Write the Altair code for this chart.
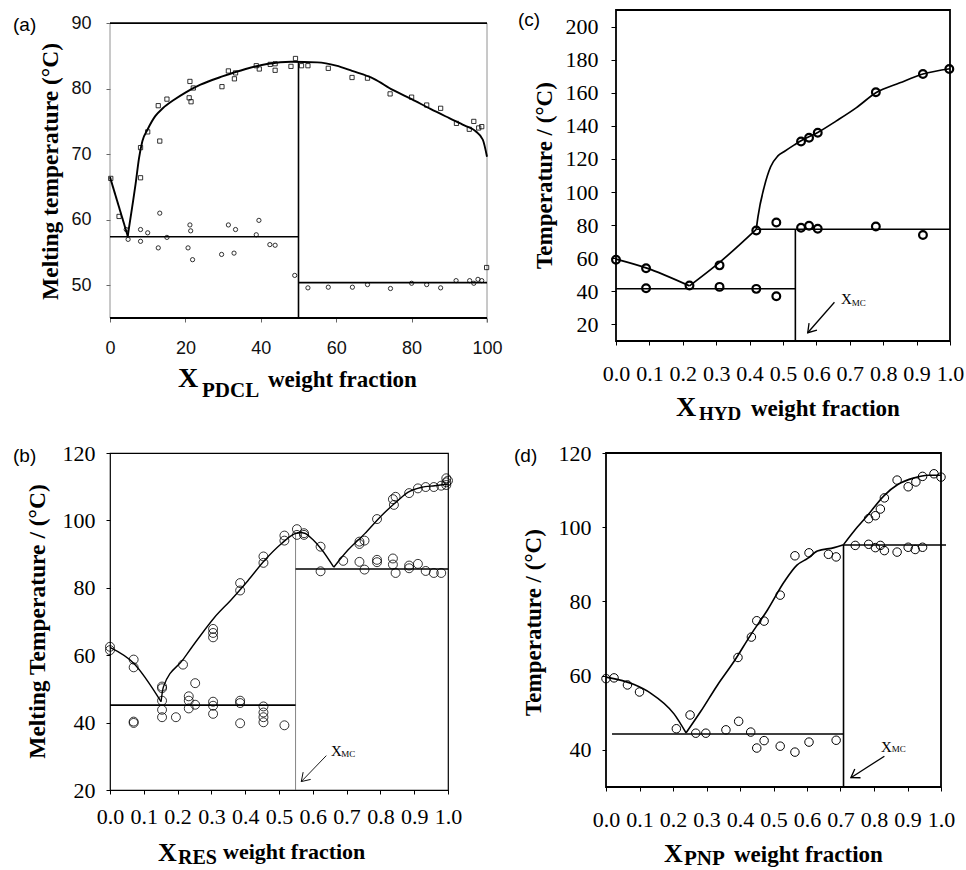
import altair as alt
import pandas as pd

SERIF = "Liberation Serif"
SANS = "Liberation Sans"

# ---------------- Panel (a) : PDCL ----------------
a_sq_x = [0.2, 2.4, 8.1, 8.1, 10.0, 12.8, 13.2, 15.1, 21.2, 21.0, 21.5, 22.1, 29.7, 31.4, 33.0, 33.3, 38.8, 39.6, 42.5, 43.8,
          43.8, 48.0, 49.2, 50.8, 52.5, 57.9, 64.2, 68.3, 74.3, 80.0, 84.0, 87.7, 91.9, 95.3, 96.5, 97.8, 98.6, 99.9]
a_sq_y = [66.3, 60.5, 71.0, 66.4, 73.4, 77.4, 72.0, 78.4, 81.1, 78.6, 78.0, 80.1, 80.3, 82.7, 81.5, 82.4, 83.5, 83.0, 83.7, 83.8,
          82.8, 83.4, 84.6, 83.5, 83.5, 83.1, 81.7, 81.6, 79.2, 78.7, 77.5, 77.0, 74.7, 73.8, 75.0, 74.0, 74.2, 52.7]
a_ci_x = [4.3, 4.8, 8.1, 8.1, 10.0, 12.8, 13.2, 15.1, 20.7, 21.2, 21.4, 21.9, 29.6, 31.4, 32.9, 33.3, 38.8, 39.5, 42.4, 43.8,
          49.0, 52.5, 57.9, 64.3, 68.3, 74.4, 80.0, 84.0, 87.7, 91.8, 95.4, 96.5, 97.6, 98.6]
a_ci_y = [58.5, 57.0, 58.5, 56.7, 58.0, 55.7, 61.0, 57.3, 55.7, 59.2, 58.3, 53.9, 54.7, 59.2, 54.9, 58.5, 57.7, 59.9, 56.2, 56.1,
          51.5, 49.6, 49.7, 49.7, 50.1, 49.5, 50.3, 50.1, 49.6, 50.7, 50.7, 50.3, 50.9, 50.7]
a_cv_x = [0, 4.7,
          4.7, 5.9, 6.8, 7.7, 8.6, 10, 12, 14, 17, 20, 24, 30, 36, 42, 48, 55, 60, 64.2, 70, 75, 80, 85, 90, 94, 97, 98.9, 100]
a_cv_y = [66.5, 57.5,
          57.5, 62.0, 65.5, 69.4, 72.0, 73.8, 75.8, 77.0, 78.3, 79.4, 80.6, 81.9, 83.0, 83.8, 84.1, 84.0, 83.5, 82.7, 81.5,
          79.8, 78.4, 76.9, 75.5, 74.4, 73.5, 72.2, 69.6]
a_cv_b = [1] * 2 + [2] * 27
a_rl_x1 = [0, 50, 50]
a_rl_x2 = [50, 100, 50]
a_rl_y1 = [57.4, 50.4, 45]
a_rl_y2 = [57.4, 50.4, 84.1]
a_fr_x1 = [0, 0]
a_fr_x2 = [100, 100]
a_fr_y1 = [90, 45]
a_fr_y2 = [90, 45]
a_side_x1 = [0, 100]
a_side_x2 = [0, 100]
a_side_y1 = [45, 44.3]
a_side_y2 = [90, 90]
a_xticks = [0, 20, 40, 60, 80, 100]
a_yticks = [50, 60, 70, 80, 90]

# ---------------- Panel (b) : RES ----------------
b_x = [0.0, 0.0, 0.07, 0.07, 0.07, 0.07, 0.154, 0.154, 0.154, 0.154, 0.154, 0.195, 0.216, 0.233, 0.233, 0.233, 0.252, 0.252,
       0.305, 0.305, 0.305, 0.305, 0.305, 0.305, 0.385, 0.385, 0.385, 0.385, 0.385, 0.454, 0.454, 0.454, 0.454, 0.454, 0.454,
       0.516, 0.516, 0.516, 0.553, 0.553, 0.574, 0.574, 0.623, 0.623, 0.69, 0.738, 0.738, 0.753, 0.738, 0.753, 0.79, 0.79, 0.79,
       0.837, 0.84, 0.845, 0.837, 0.837, 0.845, 0.885, 0.885, 0.885, 0.911, 0.911, 0.934, 0.934, 0.958, 0.958, 0.98, 0.98,
       0.995, 0.995, 0.995, 1.0]
b_y = [62.5, 61.5, 58.7, 56.4, 40.3, 39.9, 50.7, 50.2, 46.5, 43.8, 41.6, 41.6, 57.2, 47.8, 46.5, 44.2, 51.7, 45.3,
       67.8, 66.6, 65.3, 46.2, 45.0, 42.6, 81.4, 79.2, 46.5, 45.8, 39.8, 89.3, 87.4, 44.8, 43.0, 41.6, 40.1,
       95.5, 94.0, 39.2, 97.4, 95.7, 96.2, 95.7, 92.2, 84.9, 88.0, 93.0, 93.7, 94.0, 87.7, 85.4, 100.4, 88.3, 87.6,
       106.3, 104.6, 107.0, 88.7, 86.9, 84.4, 108.1, 86.6, 85.8, 109.5, 87.1, 109.9, 85.0, 109.9, 84.4, 110.3, 84.4,
       112.5, 111.3, 110.5, 111.8]
b_cv_x = [0, 0.07, 0.151,
          0.151, 0.158, 0.216, 0.26, 0.309, 0.358, 0.408, 0.457, 0.506, 0.546, 0.562, 0.576, 0.6, 0.625, 0.662,
          0.662, 0.704, 0.753, 0.803, 0.852, 0.881, 0.921, 0.961, 1.0]
b_cv_y = [62.3, 57.6, 46.2,
          46.2, 50.6, 58.7, 64.8, 71.2, 76.4, 82.1, 88.1, 93.0, 96.0, 96.4, 96.2, 94.3, 91.5, 86.1,
          86.1, 91.2, 96.0, 101.4, 105.9, 108.3, 109.8, 110.3, 110.8]
b_cv_b = [1] * 3 + [2] * 15 + [3] * 9
b_rl_x1 = [0, 0.549]
b_rl_x2 = [0.549, 1.0]
b_rl_y1 = [45.2, 85.6]
b_rl_y2 = [45.2, 85.6]
b_vl_x1 = [0.549]
b_vl_x2 = [0.549]
b_vl_y1 = [20]
b_vl_y2 = [96.5]
b_arrow = (0.64, 30.2, 0.566, 22.5)
b_mc_txt = ["X", "MC"]
b_mc_x = [0.654, 0.684]
b_mc_y = [30.2, 29.9]

# ---------------- Panel (c) : HYD ----------------
c_x = [0.0, 0.09, 0.09, 0.22, 0.31, 0.31, 0.42, 0.42, 0.48, 0.48, 0.554, 0.578, 0.604, 0.554, 0.578, 0.604,
       0.778, 0.778, 0.919, 0.919, 0.998]
c_y = [59.1, 53.9, 41.9, 43.5, 55.7, 42.7, 76.8, 41.5, 81.6, 37.0, 130.6, 132.8, 135.8, 78.4, 79.6, 77.8,
       160.3, 79.2, 171.3, 74.0, 174.3]
c_cv_x = [0, 0.09, 0.22,
          0.22, 0.31, 0.42,
          0.42, 0.425, 0.444, 0.463, 0.484, 0.504, 0.534, 0.554, 0.604, 0.66, 0.72, 0.778, 0.85, 0.919, 1.0]
c_cv_y = [59.5, 54.2, 43.3,
          43.3, 57.5, 77.5,
          77.5, 85.0, 103.3, 115.3, 121.7, 124.5, 128.5, 131.0, 136.0, 143.0, 151.0, 160.0, 166.0, 171.3, 174.5]
c_cv_b = [1] * 3 + [2] * 3 + [3] * 15
c_rl_x1 = [0, 0.537, 0.42]
c_rl_x2 = [0.537, 0.537, 1.0]
c_rl_y1 = [41.6, 10, 77.5]
c_rl_y2 = [41.6, 77.6, 77.5]
c_arrow = (0.654, 33.4, 0.574, 15.0)
c_mc_txt = ["X", "MC"]
c_mc_x = [0.674, 0.706]
c_mc_y = [32.6, 31.4]

# ---------------- Panel (d) : PNP ----------------
d_x = [0.0, 0.024, 0.064, 0.1, 0.21, 0.251, 0.268, 0.298, 0.358, 0.396, 0.394, 0.432, 0.434, 0.45, 0.45, 0.472, 0.472,
       0.52, 0.52, 0.564, 0.564, 0.606, 0.606, 0.664, 0.687, 0.687, 0.744, 0.784, 0.784, 0.804, 0.804, 0.819, 0.819,
       0.831, 0.831, 0.869, 0.869, 0.902, 0.902, 0.923, 0.925, 0.945, 0.945, 0.979, 1.0]
d_y = [59.2, 59.4, 57.5, 55.6, 45.7, 49.4, 44.5, 44.5, 45.4, 47.7, 64.9, 44.8, 70.4, 40.5, 74.8, 42.5, 74.7,
       41.0, 81.7, 39.4, 92.3, 42.1, 93.1, 92.7, 92.0, 42.6, 95.1, 95.4, 102.3, 94.5, 103.1, 95.1, 104.9,
       93.7, 107.9, 93.3, 112.7, 94.6, 110.9, 94.0, 112.2, 94.6, 113.7, 114.4, 113.5]
d_cv_x = [0, 0.084, 0.133, 0.203, 0.239,
          0.239, 0.283, 0.333, 0.382, 0.432, 0.482, 0.532, 0.57, 0.602, 0.631, 0.681, 0.709,
          0.709, 0.751, 0.781, 0.831, 0.871, 0.92, 0.96, 1.0]
d_cv_y = [59.6, 57.6, 55.3, 49.7, 44.6,
          44.6, 50.4, 57.5, 63.8, 71.0, 77.7, 85.3, 89.8, 91.6, 93.6, 94.5, 95.3,
          95.3, 100.1, 103.2, 108.6, 111.5, 113.3, 114.0, 114.0]
d_cv_b = [1] * 5 + [2] * 12 + [3] * 8
d_rl_x1 = [0.018, 0.709, 0.709]
d_rl_x2 = [0.709, 0.709, 1.015]
d_rl_y1 = [44.3, 30, 95.2]
d_rl_y2 = [44.3, 95.3, 95.2]
d_arrow = (0.831, 38.3, 0.731, 32.5)
d_mc_txt = ["X", "MC"]
d_mc_x = [0.821, 0.853]
d_mc_y = [39.4, 39.4]

frac_ticks = [0.0, 0.1, 0.2, 0.3, 0.4, 0.5, 0.6, 0.7, 0.8, 0.9, 1.0]
b_yticks = [20, 40, 60, 80, 100, 120]
c_yticks = [20, 40, 60, 80, 100, 120, 140, 160, 180, 200]
d_yticks = [40, 60, 80, 100, 120]

panel_labels = ["(a)", "(b)", "(c)", "(d)"]
x_titles = {"a": ["X", "PDCL", "weight fraction"], "b": ["X", "RES", "weight fraction"],
            "c": ["X", "HYD", "weight fraction"], "d": ["X", "PNP", "weight fraction"]}
y_titles = {"a": "Melting temperature (°C)", "b": "Melting Temperature / (°C)",
            "c": "Temperature / (°C)", "d": "Temperature / (°C)"}


# ---------------- helpers ----------------
def sc(dom):
    return alt.Scale(domain=dom, nice=False, zero=False)


def points(xs, ys, X, Y, size, sw, shape="circle"):
    df = pd.DataFrame({"x": xs, "y": ys})
    return alt.Chart(df).mark_point(shape=shape, filled=False, size=size, strokeWidth=sw,
                                     color="black", opacity=1).encode(x=X, y=Y)


def curve(xs, ys, br, X, Y, sw, interp="monotone"):
    df = pd.DataFrame({"x": xs, "y": ys, "b": br, "o": list(range(len(xs)))})
    return alt.Chart(df).mark_line(color="black", strokeWidth=sw, interpolate=interp).encode(
        x=X, y=Y, detail="b:N", order="o:Q")


def rules(x1, x2, y1, y2, X, Y, sw, color="black"):
    df = pd.DataFrame({"x": x1, "x2": x2, "y": y1, "y2": y2})
    return alt.Chart(df).mark_rule(color=color, strokeWidth=sw).encode(
        x=X, x2="x2:Q", y=Y, y2="y2:Q")


def text_px(txt, px, py, size, font=SERIF, weight="bold", baseline="alphabetic"):
    df = pd.DataFrame({"t": [txt]})
    return alt.Chart(df).mark_text(font=font, fontSize=size, fontWeight=weight, align="left",
                                    baseline=baseline, color="black").encode(
        x=alt.value(px), y=alt.value(py), text="t:N")


def xmc(txts, xs, ys, X, Y):
    df1 = pd.DataFrame({"t": txts[:1], "x": xs[:1], "y": ys[:1]})
    df2 = pd.DataFrame({"t": txts[1:], "x": xs[1:], "y": ys[1:]})
    t1 = alt.Chart(df1).mark_text(font=SERIF, fontSize=15, align="left", baseline="alphabetic",
                                  color="black").encode(x=X, y=Y, text="t:N")
    t2 = alt.Chart(df2).mark_text(font=SERIF, fontSize=9, align="left", baseline="alphabetic",
                                  color="black").encode(x=X, y=Y, text="t:N")
    return [t1, t2]


def arrow(a, angle, X, Y, sw):
    x0, y0, x1, y1 = a
    df = pd.DataFrame({"x": [x0], "x2": [x1], "y": [y0], "y2": [y1]})
    line = alt.Chart(df).mark_rule(color="black", strokeWidth=sw).encode(x=X, x2="x2:Q", y=Y, y2="y2:Q")
    head = alt.Chart(pd.DataFrame({"x": [x1], "y": [y1]})).mark_point(
        shape="M-1,-0.65L0,0L-1,0.65", filled=False, size=260, angle=angle, strokeWidth=sw,
        color="black", opacity=1).encode(x=X, y=Y)
    return [line, head]


def xtitle(parts, pos, sizes):
    return [text_px(parts[i], pos[i][0], pos[i][1], sizes[i]) for i in range(3)]


def frac_axis(pad):
    return alt.Axis(values=frac_ticks, format=".1f", domain=False, grid=False, tickSize=4, tickColor="black",
                    labelFont=SERIF, labelFontSize=22, labelColor="black", labelPadding=pad,
                    labelFlush=False, labelOverlap=False, title="")


def temp_axis(vals, pad, title, tx, ty, tsize, ticksize=4):
    return alt.Axis(values=vals, format="d", domain=False, grid=False, tickSize=ticksize, tickColor="black",
                    labelFont=SERIF, labelFontSize=22, labelColor="black", labelPadding=pad,
                    labelOverlap=False, title=title, titleFont=SERIF, titleFontSize=tsize,
                    titleFontWeight="bold", titleColor="black", titleAngle=270, titleAlign="center",
                    titleBaseline="middle", titleX=tx, titleY=ty)


# ---------------- Panel (a) ----------------
aX = alt.X("x:Q", scale=sc([0, 100]), axis=alt.Axis(
    values=a_xticks, format="d", domain=False, grid=False, tickSize=4, tickColor="#666",
    labelFont=SANS, labelFontSize=18, labelColor="#111", labelPadding=17, labelFlush=False,
    labelOverlap=False, title=""))
aY = alt.Y("y:Q", scale=sc([45, 92]), axis=alt.Axis(
    values=a_yticks, format="d", domain=False, grid=False, tickSize=4, tickColor="#666",
    labelFont=SANS, labelFontSize=18, labelColor="#111", labelPadding=15, labelOverlap=False,
    title=y_titles["a"], titleFont=SERIF, titleFontSize=23.5, titleFontWeight="bold", titleColor="black",
    titleAngle=270, titleAlign="center", titleBaseline="middle", titleX=-60, titleY=161))

A = alt.layer(
    rules(a_side_x1, a_side_x2, a_side_y1, a_side_y2, aX, aY, 0.8, "#777"),
    rules(a_fr_x1, a_fr_x2, a_fr_y1, a_fr_y2, aX, aY, 1.8),
    rules(a_rl_x1, a_rl_x2, a_rl_y1, a_rl_y2, aX, aY, 1.6),
    curve(a_cv_x, a_cv_y, a_cv_b, aX, aY, 1.9),
    points(a_sq_x, a_sq_y, aX, aY, 18, 0.8, "square"),
    points(a_ci_x, a_ci_y, aX, aY, 18, 0.8, "circle"),
    text_px(panel_labels[0], -97, 15, 19, font=SANS, weight="normal", baseline="middle"),
    *xtitle(x_titles["a"], [(68, 377), (92, 387), (158, 377)], [28, 21, 23]),
).properties(width=377, height=308, view=alt.ViewBackground(stroke="transparent"))

# ---------------- Panel (c) ----------------
cX = alt.X("x:Q", scale=sc([0, 1]), axis=frac_axis(18))
cY = alt.Y("y:Q", scale=sc([10, 210]), axis=temp_axis(c_yticks, 13, y_titles["c"], -72, 165, 23, 5))
C = alt.layer(
    rules(c_rl_x1, c_rl_x2, c_rl_y1, c_rl_y2, cX, cY, 1.6),
    curve(c_cv_x, c_cv_y, c_cv_b, cX, cY, 1.7),
    points(c_x, c_y, cX, cY, 60, 2.2),
    *arrow(c_arrow, 131, cX, cY, 1.3),
    *xmc(c_mc_txt, c_mc_x, c_mc_y, cX, cY),
    text_px(panel_labels[2], -98, 10, 19, font=SANS, weight="normal", baseline="middle"),
    *xtitle(x_titles["c"], [(60, 406), (83, 410), (135, 406)], [28, 19, 23]),
).properties(width=334, height=331, view=alt.ViewBackground(stroke="black", strokeWidth=1.8))

# ---------------- Panel (b) ----------------
bX = alt.X("x:Q", scale=sc([0, 1]), axis=frac_axis(12))
bY = alt.Y("y:Q", scale=sc([20, 120]), axis=temp_axis(b_yticks, 11, y_titles["b"], -73, 168, 23.5))
B = alt.layer(
    rules(b_vl_x1, b_vl_x2, b_vl_y1, b_vl_y2, bX, bY, 0.8, "#666"),
    rules(b_rl_x1, b_rl_x2, b_rl_y1, b_rl_y2, bX, bY, 1.6),
    curve(b_cv_x, b_cv_y, b_cv_b, bX, bY, 1.4),
    points(b_x, b_y, bX, bY, 80, 0.8),
    *arrow(b_arrow, 134, bX, bY, 0.9),
    *xmc(b_mc_txt, b_mc_x, b_mc_y, bX, bY),
    text_px(panel_labels[1], -97, 3, 19, font=SANS, weight="normal", baseline="middle"),
    *xtitle(x_titles["b"], [(48, 408), (68, 411), (113, 406)], [26, 20, 22]),
).properties(width=338, height=337, view=alt.ViewBackground(stroke="black", strokeWidth=1.2))

# ---------------- Panel (d) ----------------
dX = alt.X("x:Q", scale=sc([0, 1]), axis=frac_axis(18))
dY = alt.Y("y:Q", scale=sc([30, 120]), axis=temp_axis(d_yticks, 11, y_titles["d"], -73, 169, 23))
D = alt.layer(
    rules(d_rl_x1, d_rl_x2, d_rl_y1, d_rl_y2, dX, dY, 1.6),
    curve(d_cv_x, d_cv_y, d_cv_b, dX, dY, 1.6),
    points(d_x, d_y, dX, dY, 72, 1.0),
    *arrow(d_arrow, 147, dX, dY, 1.3),
    *xmc(d_mc_txt, d_mc_x, d_mc_y, dX, dY),
    text_px(panel_labels[3], -92, 3, 19, font=SANS, weight="normal", baseline="middle"),
    *xtitle(x_titles["d"], [(58, 409), (78, 412), (128, 409)], [26, 21, 23]),
).properties(width=335, height=334, view=alt.ViewBackground(stroke="black", strokeWidth=1.8))

row1 = alt.hconcat(A, C, spacing=129, bounds="flush")
row2 = alt.hconcat(B, D, spacing=158, bounds="flush")
chart = alt.vconcat(row1, row2, spacing=16).properties(
    padding={"left": 12, "top": 9, "right": 0, "bottom": 0}, background="white")

chart.save("out.html", embed_options={"renderer": "svg", "actions": False})
